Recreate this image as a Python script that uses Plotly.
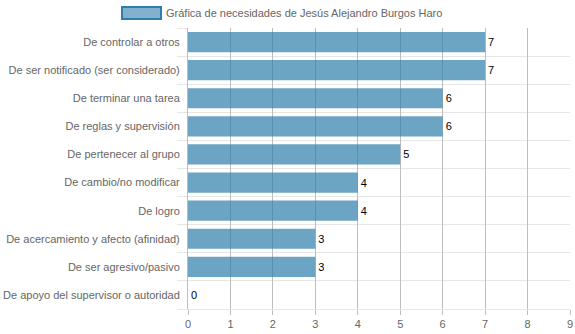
import plotly.graph_objects as go

categories = [
    "De controlar a otros",
    "De ser notificado (ser considerado)",
    "De terminar una tarea",
    "De reglas y supervisión",
    "De pertenecer al grupo",
    "De cambio/no modificar",
    "De logro",
    "De acercamiento y afecto (afinidad)",
    "De ser agresivo/pasivo",
    "De apoyo del supervisor o autoridad",
]
values = [7, 7, 6, 6, 5, 4, 4, 3, 3, 0]
series_name = "Gráfica de necesidades de Jesús Alejandro Burgos Haro"
x_ticks = list(range(0, 10))

positions = list(range(len(categories)))
bar_fill = "rgba(46,125,171,0.7)"
label_font = dict(family="Liberation Sans, Arial, sans-serif", size=11, color="#666666")

fig = go.Figure()
fig.add_trace(go.Bar(
    y=positions,
    x=values,
    orientation="h",
    width=0.72,
    marker=dict(color=bar_fill, line=dict(width=0)),
    text=[str(v) for v in values],
    textposition="outside",
    textfont=dict(family="Liberation Sans, Arial, sans-serif", size=11, color="#000000"),
    cliponaxis=False,
    hoverinfo="x+y",
    showlegend=False,
))

# legend swatch and caption at the top
fig.add_shape(type="rect", xref="paper", yref="paper",
              x0=(122 - 188) / 382, x1=(161 - 188) / 382,
              y0=1 + (28 - 19) / 281, y1=1 + (28 - 7) / 281,
              fillcolor="rgba(46,125,171,0.6)", line=dict(color="#2e7dab", width=2))
fig.add_annotation(xref="paper", yref="paper",
                   x=(166 - 188) / 382, y=1 + (28 - 13) / 281,
                   text=series_name, showarrow=False, xanchor="left", yanchor="middle",
                   xshift=-2, font=label_font)

fig.update_layout(
    width=575, height=334,
    margin=dict(l=188, r=5, t=28, b=25, autoexpand=False),
    paper_bgcolor="white", plot_bgcolor="white",
    xaxis=dict(
        range=[0, 9], tickvals=x_ticks, ticktext=[str(t) for t in x_ticks],
        showgrid=True, gridcolor="#bdbdbd", gridwidth=1,
        zeroline=False, ticks="outside", ticklen=5, tickcolor="#bdbdbd",
        tickfont=label_font, showline=True, linecolor="#e6e6e6",
        automargin=False, fixedrange=True,
    ),
    yaxis=dict(
        range=[9.5, -0.5], tickvals=positions, ticktext=categories,
        showgrid=False, zeroline=False, ticks="", ticklabelstandoff=5,
        tickfont=label_font, showline=True, linecolor="#bdbdbd",
        minor=dict(tickvals=[p - 0.5 for p in positions] + [len(positions) - 0.5],
                   showgrid=True, gridcolor="#e6e6e6", gridwidth=1,
                   ticks="outside", ticklen=10, tickcolor="#e6e6e6"),
        automargin=False, fixedrange=True,
    ),
)

fig.write_html("out.html")
